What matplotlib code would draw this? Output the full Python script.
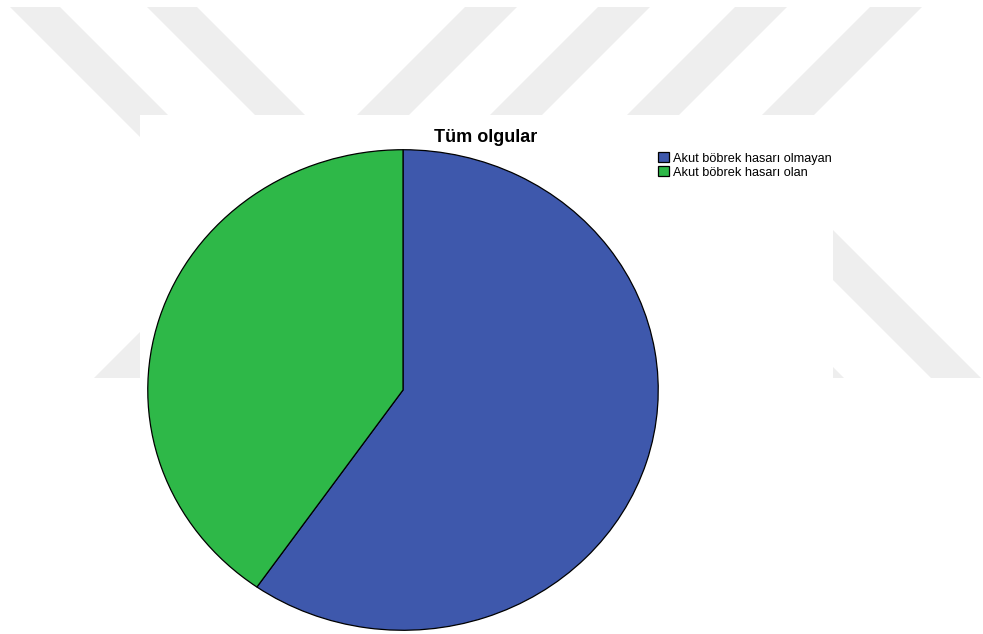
import matplotlib
matplotlib.use('Agg')
from matplotlib import pyplot as plt
from matplotlib.patches import Polygon, Rectangle

plt.rcParams['font.family'] = ['Liberation Sans', 'DejaVu Sans']

# chart data (share of cases)
labels = ['Akut böbrek hasarı olmayan', 'Akut böbrek hasarı olan']
shares = [59.7, 40.3]
colors = ['#3e58ac', '#2eb848']
title = 'Tüm olgular'

W, H = 983, 634
fig = plt.figure(figsize=(W/100, H/100), dpi=100)

# background with the faint diagonal watermark stripes
bg = fig.add_axes([0, 0, 1, 1])
bg.set_xlim(0, W)
bg.set_ylim(H, 0)
bg.axis('off')
wm = '#eeeeee'
top, bot = 7, 378
drop = bot - top
# "\" stripes starting at the top edge
for x0 in [10, 147]:
	bg.add_patch(Polygon([(x0, top), (x0+50, top), (x0+50+drop, bot), (x0+drop, bot)], color=wm, lw=0))
# "/" stripes starting at the top edge
for x0 in [465, 598, 735, 870]:
	bg.add_patch(Polygon([(x0, top), (x0+52, top), (x0+52-drop, bot), (x0-drop, bot)], color=wm, lw=0))
# "\" stripes on the right side
bg.add_patch(Polygon([(703, 150), (753, 150), (981, 378), (931, 378)], color=wm, lw=0))
bg.add_patch(Polygon([(666, 250), (716, 250), (844, 378), (794, 378)], color=wm, lw=0))
# white chart panel
bg.add_patch(Rectangle((140, 115), 833-140, H-115, color='white', lw=0))

# pie, stretched slightly to an ellipse like the original
left, right, ptop, pbot = 147, 659, 149, 631
ax = fig.add_axes([left/W, 1-pbot/H, (right-left)/W, (pbot-ptop)/H])
wedges, _ = ax.pie(shares, colors=colors, startangle=90, counterclock=False,
	radius=1, wedgeprops={'edgecolor': 'black', 'linewidth': 0.9})
ax.set_aspect('auto')
ax.set_xlim(-1.003, 1.003)
ax.set_ylim(-1.003, 1.003)
ax.axis('off')

fig.text(486/W, 1-137/H, title, ha='center', va='center', fontsize=13, fontweight='bold')

fig.legend(wedges, labels, loc='upper left', bbox_to_anchor=(658/W, 1-152/H),
	frameon=False, fontsize=9.2, handlelength=0.85, handleheight=0.85,
	handletextpad=0.3, labelspacing=0.12, borderpad=0, borderaxespad=0)

fig.savefig('out.png', dpi=100)
